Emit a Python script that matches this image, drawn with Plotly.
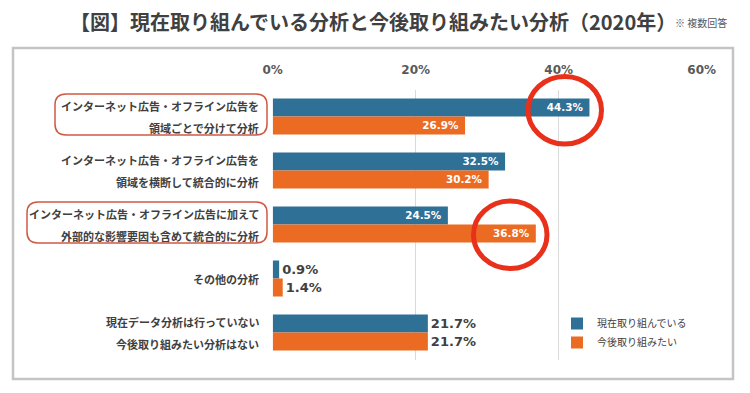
import plotly.graph_objects as go

W, H = 750, 393
OFF = 8  # page body margin offset

categories = [
    "インターネット広告・オフライン広告を\n領域ごとで分けて分析",
    "インターネット広告・オフライン広告を\n領域を横断して統合的に分析",
    "インターネット広告・オフライン広告に加えて\n外部的な影響要因も含めて統合的に分析",
    "その他の分析",
    "現在データ分析は行っていない\n今後取り組みたい分析はない",
]
series_names = ["現在取り組んでいる", "今後取り組みたい"]
current_values = [44.3, 32.5, 24.5, 0.9, 21.7]
future_values = [26.9, 30.2, 36.8, 1.4, 21.7]
tick_values = [0, 20, 40, 60]
tick_labels = ["0%", "20%", "40%", "60%"]
title_text = "【図】現在取り組んでいる分析と今後取り組みたい分析（2020年）"
note_text = "※ 複数回答"

BLUE = "#2f7096"
ORANGE = "#ec6b23"
TEXT = "#404040"
JP = "Noto Sans CJK JP, Noto Sans, sans-serif"
NUM = "DejaVu Sans, Verdana, sans-serif"

def px(x):
    return (x - OFF) / W

def py(y):
    return 1 - (y - OFF) / H

cat_ids = list(range(len(categories)))
positions = ["inside", "inside", "inside", "outside", "outside"]

def labels(vals):
    return [f"{v:.1f}%" + ("\u00a0" if p == "inside" else "") for v, p in zip(vals, positions)]

fig = go.Figure()
for name, vals, col in [(series_names[0], current_values, BLUE),
                        (series_names[1], future_values, ORANGE)]:
    fig.add_trace(go.Bar(
        name=name, y=cat_ids, x=vals, orientation="h",
        marker=dict(color=col, line=dict(width=0)),
        text=labels(vals),
        textposition=positions,
        insidetextanchor="end",
        insidetextfont=dict(family=NUM, size=13, color="white", weight="bold"),
        outsidetextfont=dict(family=NUM, size=13, color=TEXT, weight="bold"),
        cliponaxis=False,
        hoverinfo="skip",
    ))

annotations = []
for i, lab in enumerate(categories):
    lines = lab.split("\n")
    n = len(lines)
    for j, line in enumerate(lines):
        shift = (n - 1) / 2 * 22 - j * 22
        annotations.append(dict(
            x=px(261), xref="paper", y=i, yref="y", yshift=shift,
            text=line, showarrow=False, xanchor="right", yanchor="middle",
            font=dict(family=JP, size=11, color=TEXT, weight="bold"),
        ))

annotations.append(dict(
    x=px(373), y=py(22), xref="paper", yref="paper", text=title_text,
    showarrow=False, xanchor="center", yanchor="middle",
    font=dict(family=JP, size=20, color=TEXT, weight="bold"),
))
annotations.append(dict(
    x=px(673), y=py(23), xref="paper", yref="paper", text=note_text,
    showarrow=False, xanchor="left", yanchor="middle",
    font=dict(family=JP, size=10, color="#595959"),
))

def rounded_rect(x0, y0, x1, y1, r):
    X0, X1 = px(x0), px(x1)
    Y0, Y1 = py(y0), py(y1)
    rx, ry = r / W, r / H
    return (f"M{X0+rx},{Y0} L{X1-rx},{Y0} Q{X1},{Y0} {X1},{Y0-ry} "
            f"L{X1},{Y1+ry} Q{X1},{Y1} {X1-rx},{Y1} L{X0+rx},{Y1} "
            f"Q{X0},{Y1} {X0},{Y1+ry} L{X0},{Y0-ry} Q{X0},{Y0} {X0+rx},{Y0} Z")

shapes = [
    dict(type="rect", xref="paper", yref="paper",
         x0=px(13), x1=px(733), y0=py(379), y1=py(48),
         line=dict(color="#c4c4c4", width=2.5), layer="below"),
    dict(type="path", xref="paper", yref="paper", path=rounded_rect(55, 94, 267, 135, 11),
         line=dict(color="#cf5a44", width=1.5)),
    dict(type="path", xref="paper", yref="paper", path=rounded_rect(27, 202, 267, 243, 11),
         line=dict(color="#cf5a44", width=1.5)),
    dict(type="circle", xref="paper", yref="paper",
         x0=px(528), x1=px(601.5), y0=py(144), y1=py(76.5),
         line=dict(color="#e8301b", width=5)),
    dict(type="circle", xref="paper", yref="paper",
         x0=px(473.5), x1=px(547), y0=py(268.5), y1=py(201),
         line=dict(color="#e8301b", width=5)),
]

fig.update_layout(
    template="none",
    width=W, height=H,
    margin=dict(l=0, r=0, t=0, b=0, pad=0, autoexpand=False),
    paper_bgcolor="white", plot_bgcolor="white",
    barmode="group", bargap=0.333, bargroupgap=0,
    showlegend=True,
    legend=dict(x=px(557), y=py(309), xanchor="left", yanchor="top",
                font=dict(family=JP, size=10, color=TEXT),
                bgcolor="rgba(0,0,0,0)", itemwidth=30, tracegroupgap=0),
    xaxis=dict(domain=[px(272.7), px(701.7)], range=[0, 60], side="top",
               tickvals=tick_values, ticktext=tick_labels, automargin=False,
               showgrid=True, gridcolor="#d9d9d9", gridwidth=1,
               zeroline=False, showline=False, ticks="",
               ticklabelstandoff=12,
               tickfont=dict(family=NUM, size=12, color="#595959", weight="bold")),
    yaxis=dict(domain=[py(359.5), py(89.5)], range=[4.5, -0.5], automargin=False,
               showticklabels=False, showgrid=False, zeroline=False, ticks=""),
    annotations=annotations,
    shapes=shapes,
)

fig.write_html("out.html")
